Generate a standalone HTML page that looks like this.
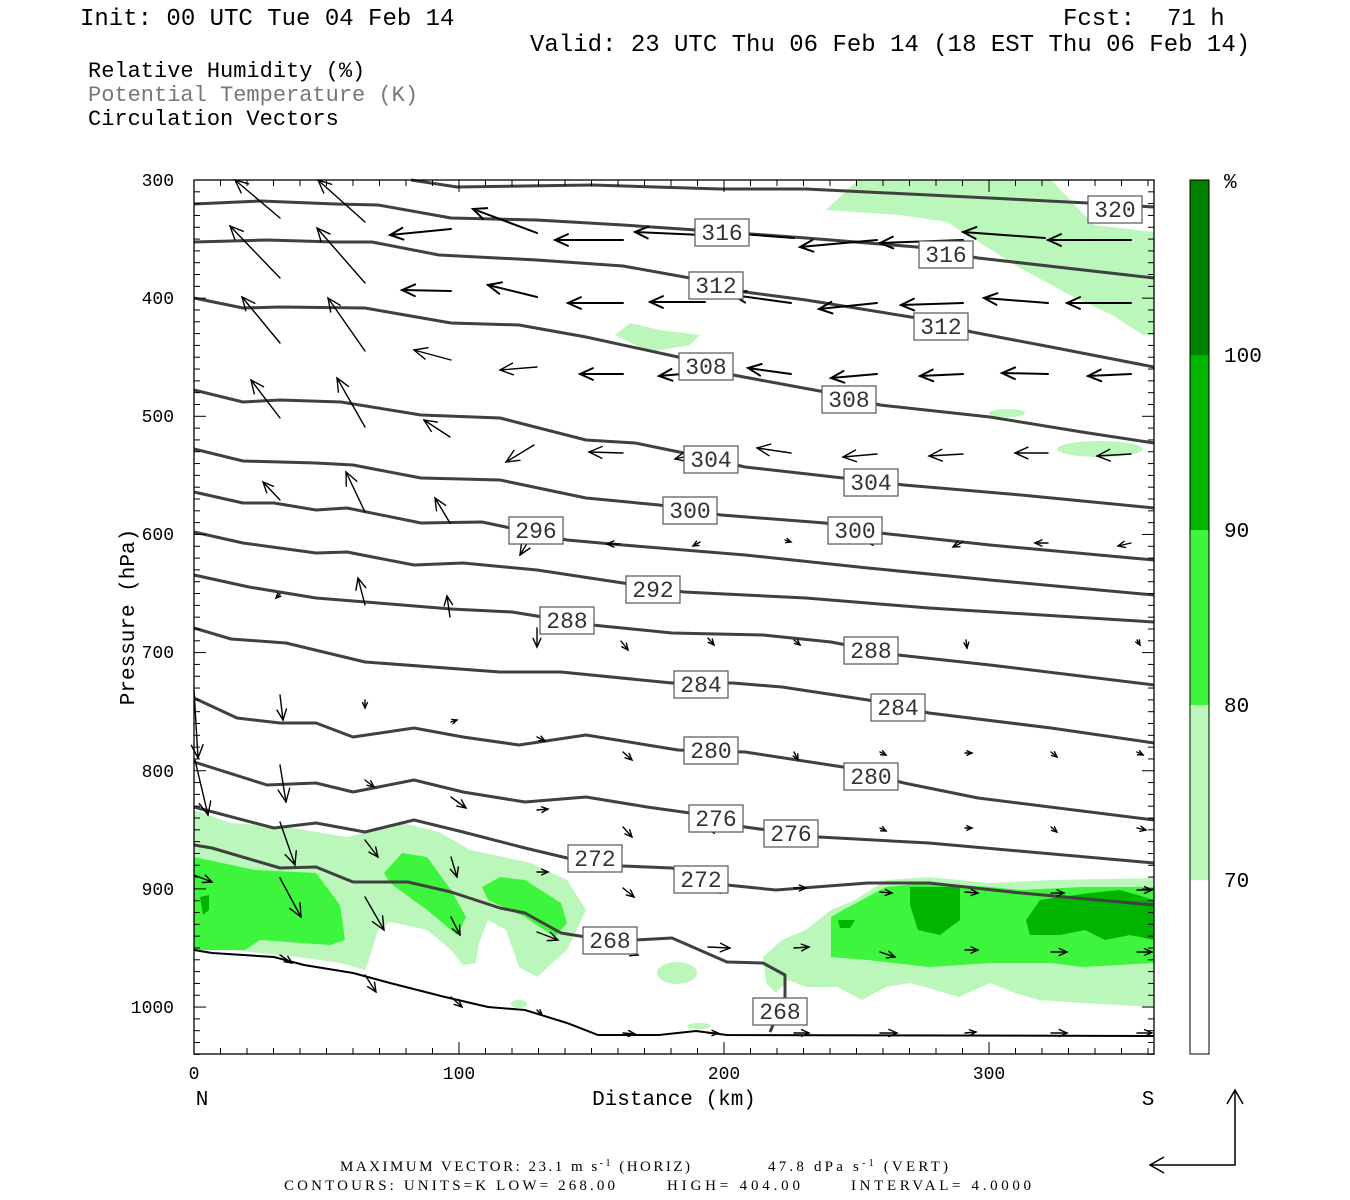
<!DOCTYPE html>
<html><head><meta charset="utf-8"><style>
html,body{margin:0;padding:0;background:#fff;}
svg{display:block;}
.hd{font-family:"Liberation Mono",monospace;font-size:24px;fill:#000;}
.lg{font-family:"Liberation Mono",monospace;font-size:22px;}
.tk{font-family:"Liberation Mono",monospace;font-size:18px;fill:#000;}
.ax{font-family:"Liberation Mono",monospace;font-size:21px;fill:#000;}
.sm{font-family:"Liberation Serif",serif;font-size:15px;fill:#000;}
.lb{font-family:"Liberation Mono",monospace;font-size:23px;fill:#333;}
</style></head><body>
<svg id="s" width="1350" height="1200" viewBox="0 0 1350 1200" xmlns="http://www.w3.org/2000/svg">
<text class="hd" x="80" y="25">Init: 00 UTC Tue 04 Feb 14</text>
<text class="hd" x="1063" y="25">Fcst:</text>
<text class="hd" x="1167" y="25">71 h</text>
<text class="hd" x="530" y="51">Valid: 23 UTC Thu 06 Feb 14 (18 EST Thu 06 Feb 14)</text>
<text class="lg" x="88" y="77" fill="#000">Relative Humidity (%)</text>
<text class="lg" x="88" y="101" fill="#777">Potential Temperature (K)</text>
<text class="lg" x="88" y="125" fill="#000">Circulation Vectors</text>

<g id="fill">
<polygon fill="#bbf7bb" points="826,210 858,180 1051,180 1094,225 1154,232 1154,335 1143,335 1112,315 1070,295 1020,268 947,222 900,215"/>
<polygon fill="#bbf7bb" points="615,335 630,323 660,330 700,335 690,345 650,352"/>
<ellipse fill="#bbf7bb" cx="1007" cy="413" rx="18" ry="4"/>
<ellipse fill="#bbf7bb" cx="1100" cy="449" rx="43" ry="8"/>
<polygon fill="#bbf7bb" points="194,810 231,823 286,827 347,837 402,823 439,832 470,850 531,863 567,880 586,910 567,950 537,977 519,967 506,930 488,920 479,943 476,963 463,965 451,950 427,930 390,922 378,930 368,963 365,970 341,963 298,957 231,950 194,950"/>
<polygon fill="#3cf53c" points="194,857 255,870 316,873 340,905 345,940 330,945 260,940 245,950 194,950"/>
<polygon fill="#3cf53c" points="384,873 402,853 427,857 451,890 466,917 457,935 427,910 390,883"/>
<polygon fill="#3cf53c" points="482,887 500,877 525,880 561,903 567,923 555,937 525,917 488,900"/>
<polygon fill="#00b400" points="200,897 209,895 209,910 203,915"/>
<polygon fill="#bbf7bb" points="763,957 782,940 806,930 831,910 855,900 886,880 929,877 990,883 1051,880 1154,878 1154,1007 1082,1003 1039,1000 1015,993 990,983 959,997 935,990 910,983 886,987 862,1000 837,987 806,987 788,980 776,993 766,983"/>
<polygon fill="#3cf53c" points="831,917 843,910 886,887 929,883 990,887 1021,890 1082,887 1154,887 1154,963 1082,967 1051,963 990,963 929,967 868,960 831,957"/>
<polygon fill="#00b400" points="910,887 960,887 960,920 940,935 918,930 910,905"/>
<polygon fill="#00b400" points="1026,920 1040,900 1090,893 1120,890 1154,900 1154,940 1130,935 1105,940 1085,930 1060,935 1030,935"/>
<polygon fill="#00b400" points="838,920 855,920 850,928 840,928"/>
<ellipse fill="#bbf7bb" cx="677" cy="973" rx="20" ry="11"/>
<ellipse fill="#bbf7bb" cx="519" cy="1004" rx="8" ry="4"/>
<ellipse fill="#bbf7bb" cx="699" cy="1026" rx="12" ry="3"/>
</g>

<g fill="none" stroke="#404040" stroke-width="3" stroke-linejoin="round">
<polyline points="411,180 457,187 592,185 721,189 806,189 929,195 1088,203 1154,207"/>
<polyline points="194,204 261,201 335,204 378,205 451,218 537,220 623,225 696,230 806,238 917,247 978,258 1154,278"/>
<polyline points="194,242 267,240 335,242 372,242 439,255 537,260 623,266 690,278 745,292 806,300 917,318 972,332 1051,347 1154,367"/>
<polyline points="194,298 243,308 280,307 365,308 451,323 519,325 586,337 678,357 733,375 825,392 880,405 990,417 1082,432 1154,443"/>
<polyline points="194,390 243,402 280,400 341,402 421,415 500,418 586,440 635,443 684,453 745,467 843,478 904,485 1021,495 1154,508"/>
<polyline points="194,449 243,461 316,463 353,465 421,478 500,480 586,498 659,505 721,515 825,523 880,533 990,545 1154,560"/>
<polyline points="194,492 243,503 274,503 316,510 347,508 421,523 482,522 567,540 623,545 745,555 868,568 990,580 1154,595"/>
<polyline points="194,532 243,543 316,553 347,552 414,565 463,563 537,570 623,583 684,592 806,598 929,608 1154,622"/>
<polyline points="194,575 249,587 316,598 378,603 451,609 512,612 592,625 672,633 763,635 831,642 898,655 990,665 1154,685"/>
<polyline points="194,628 231,639 286,643 365,662 500,672 561,672 672,683 733,683 782,687 868,700 929,713 1051,728 1154,743"/>
<polyline points="194,698 237,718 280,723 316,723 353,737 414,728 463,737 519,745 586,735 678,750 745,752 843,767 904,783 978,798 1154,820"/>
<polyline points="194,762 267,785 316,783 353,792 414,780 463,792 525,802 586,797 647,807 690,813 745,827 819,837 929,843 1154,863"/>
<polyline points="194,807 274,828 316,823 365,832 414,820 463,832 525,848 567,858 623,866 672,868 727,885 776,890 868,883 929,883 1021,893 1154,905"/>
<polyline points="194,845 212,848 280,868 316,867 353,882 408,882 451,892 500,908 525,913 561,933 586,937 635,940 672,938 727,962 763,963 785,975 785,997 770,1032"/>
</g>
<polyline fill="none" stroke="#000" stroke-width="2" points="194,950 212,953 274,957 304,965 353,973 390,983 445,997 488,1007 525,1010 567,1023 598,1035 659,1035 696,1031 727,1035 1154,1036"/>

<g id="arr" stroke="#000" fill="none" stroke-linecap="round"></g>
<g id="labs"></g>

<rect x="194" y="180" width="960" height="874" fill="none" stroke="#000" stroke-width="1.3"/>
<g id="ticks" stroke="#000" stroke-width="1"></g>

<g class="tk" text-anchor="end">
<text x="174" y="186">300</text><text x="174" y="304">400</text><text x="174" y="422">500</text>
<text x="174" y="540">600</text><text x="174" y="658">700</text><text x="174" y="777">800</text>
<text x="174" y="895">900</text><text x="174" y="1013">1000</text>
</g>
<g class="tk" text-anchor="middle">
<text x="194" y="1079">0</text><text x="459" y="1079">100</text><text x="724" y="1079">200</text><text x="989" y="1079">300</text>
</g>
<text class="ax" x="202" y="1105" text-anchor="middle">N</text>
<text class="ax" x="1148" y="1105" text-anchor="middle">S</text>
<text class="ax" x="674" y="1105" text-anchor="middle">Distance (km)</text>
<text class="ax" x="0" y="0" text-anchor="middle" transform="translate(134,617) rotate(-90)">Pressure (hPa)</text>

<rect x="1190" y="180" width="19" height="175" fill="#008200"/>
<rect x="1190" y="355" width="19" height="175" fill="#00b400"/>
<rect x="1190" y="530" width="19" height="175" fill="#3cf53c"/>
<rect x="1190" y="705" width="19" height="175" fill="#bbf7bb"/>
<rect x="1190" y="180" width="19" height="874" fill="none" stroke="#000" stroke-width="1"/>
<g class="ax"><text x="1224" y="188">%</text><text x="1224" y="362">100</text><text x="1224" y="537">90</text><text x="1224" y="712">80</text><text x="1224" y="887">70</text></g>

<text class="sm" x="340" y="1171" textLength="350" lengthAdjust="spacing">MAXIMUM VECTOR:  23.1  m s<tspan dy="-5" font-size="10">-1</tspan><tspan dy="5"> (HORIZ)</tspan></text>
<text class="sm" x="768" y="1171" textLength="180" lengthAdjust="spacing">47.8  dPa s<tspan dy="-5" font-size="10">-1</tspan><tspan dy="5"> (VERT)</tspan></text>
<text class="sm" x="284" y="1190" textLength="331" lengthAdjust="spacing">CONTOURS:  UNITS=K   LOW=   268.00</text>
<text class="sm" x="667" y="1190" textLength="133" lengthAdjust="spacing">HIGH=   404.00</text>
<text class="sm" x="851" y="1190" textLength="180" lengthAdjust="spacing">INTERVAL=     4.0000</text>
<g stroke="#000" stroke-width="1.5" fill="none">
<polyline points="1235,1090 1235,1165 1150,1165"/>
<polyline points="1227,1104 1235,1090 1243,1104"/>
<polyline points="1164,1157 1150,1165 1164,1173"/>
</g>
</svg>
<script>
var NS="http://www.w3.org/2000/svg";
function el(p,t,a){var e=document.createElementNS(NS,t);for(var k in a)e.setAttribute(k,a[k]);p.appendChild(e);return e;}
var A=[[280,218,235,180],[365,222,318,180],[280,278,230,226],[365,283,317,228],[280,343,242,297],[365,351,328,298],[280,418,251,380],[365,427,337,378],[450,437,424,420],[280,500,263,482],[365,512,346,472],[450,523,435,498],[365,605,358,578],[450,617,447,596],
[451,229,390,235],[537,233,473,209],[623,240,555,240],[702,235,635,232],[794,238,715,232],[877,240,800,247],[963,240,880,243],[1045,238,963,232],[1131,240,1048,240],
[451,291,402,290],[537,297,488,285],[623,303,568,303],[705,302,650,302],[791,303,733,295],[877,303,819,309],[963,303,901,305],[1048,303,984,298],[1131,303,1067,303],
[451,360,414,350],[537,367,500,370],[623,374,580,374],[705,372,659,376],[791,374,748,368],[877,374,831,378],[963,374,920,376],[1048,374,1002,373],[1131,374,1088,376],
[534,445,506,462],[623,453,589,452],[705,452,675,459],[791,453,757,448],[877,454,843,457],[963,454,929,456],[1048,453,1015,453],[1131,454,1097,456],
[534,532,520,555],[620,544,607,544],[700,542,693,546],[785,540,791,542],[875,543,868,543],[963,542,953,547],[1048,543,1035,543],[1131,543,1118,546],[280,594,276,598],
[537,628,537,647],[621,641,628,650],[708,638,714,645],[794,640,800,645],[880,640,883,642],[966,640,967,648],[1137,640,1140,645],
[280,695,283,720],[365,700,365,708],[194,690,198,758],[195,760,208,815],[451,722,457,720],[537,737,545,741],
[623,752,632,760],[708,748,714,757],[794,752,798,760],[880,752,886,755],[965,753,972,753],[1051,752,1057,757],[1137,752,1143,755],
[280,765,286,802],[365,780,374,787],[451,797,466,808],[537,810,548,809],
[623,827,632,837],[708,825,714,833],[794,827,800,833],[880,828,886,831],[965,828,972,828],[1051,827,1057,832],[1137,828,1146,830],
[280,822,295,865],[365,840,378,857],[451,857,457,877],[194,875,212,882],[537,872,548,872],
[623,888,634,897],[708,885,720,893],[794,888,806,888],[880,892,892,893],[965,892,978,893],[1051,893,1064,893],[1137,890,1152,890],
[280,878,301,917],[365,897,384,930],[451,917,460,935],[537,932,558,940],[623,950,638,955],[708,947,730,948],[794,948,809,947],[880,952,895,957],[965,950,978,950],[1051,952,1067,952],[1137,952,1152,952],
[280,955,292,963],[365,975,376,992],[451,997,462,1007],[537,1010,542,1015],[623,1033,635,1034],[708,1033,718,1033],[794,1033,809,1033],[880,1033,897,1033],[965,1033,976,1032],[1051,1033,1067,1033],[1137,1033,1152,1033]];
var g=document.getElementById("arr");
A.forEach(function(a){var dx=a[2]-a[0],dy=a[3]-a[1],L=Math.sqrt(dx*dx+dy*dy);if(L<1)return;
var ux=dx/L,uy=dy/L,h=Math.min(13,L*0.3+3),w=h*0.45;var thick=(a[1]<470&&L>40&&Math.abs(dy)<30)?2:1.4;
el(g,"line",{x1:a[0],y1:a[1],x2:a[2],y2:a[3],"stroke-width":thick});
var bx=a[2]-ux*h,by=a[3]-uy*h;
el(g,"polyline",{points:(bx-uy*w)+","+(by+ux*w)+" "+a[2]+","+a[3]+" "+(bx+uy*w)+","+(by-ux*w),"stroke-width":thick});});
var Lb=[[320,1115,209],[316,722,232],[316,946,254],[312,716,285],[312,941,326],[308,706,366],[308,849,399],[304,711,459],[304,871,482],[300,690,510],[300,855,530],[296,536,530],[292,653,589],[288,567,620],[288,871,650],[284,701,684],[284,898,707],[280,711,750],[280,871,776],[276,716,818],[276,791,833],[272,595,858],[272,701,879],[268,610,940],[268,780,1011]];
var lg=document.getElementById("labs");
Lb.forEach(function(l){el(lg,"rect",{x:l[1]-27,y:l[2]-13,width:54,height:27,fill:"#fff",stroke:"#555","stroke-width":1.2});
var t=el(lg,"text",{x:l[1],y:l[2]+8,"text-anchor":"middle","class":"lb"});t.textContent=l[0];});
var tg=document.getElementById("ticks");
for(var p=300;p<=1040;p+=10){var y=180+(p-300)*1.1815;var len=(p%100==0)?12:6;
el(tg,"line",{x1:194,y1:y,x2:194+len,y2:y});el(tg,"line",{x1:1154,y1:y,x2:1154-len,y2:y});}
for(var d=0;d<=362;d+=10){var x=194+d*2.65;var len=(d%100==0)?12:6;
el(tg,"line",{x1:x,y1:180,x2:x,y2:180+len});el(tg,"line",{x1:x,y1:1054,x2:x,y2:1054-len});}
</script>
</body></html>
